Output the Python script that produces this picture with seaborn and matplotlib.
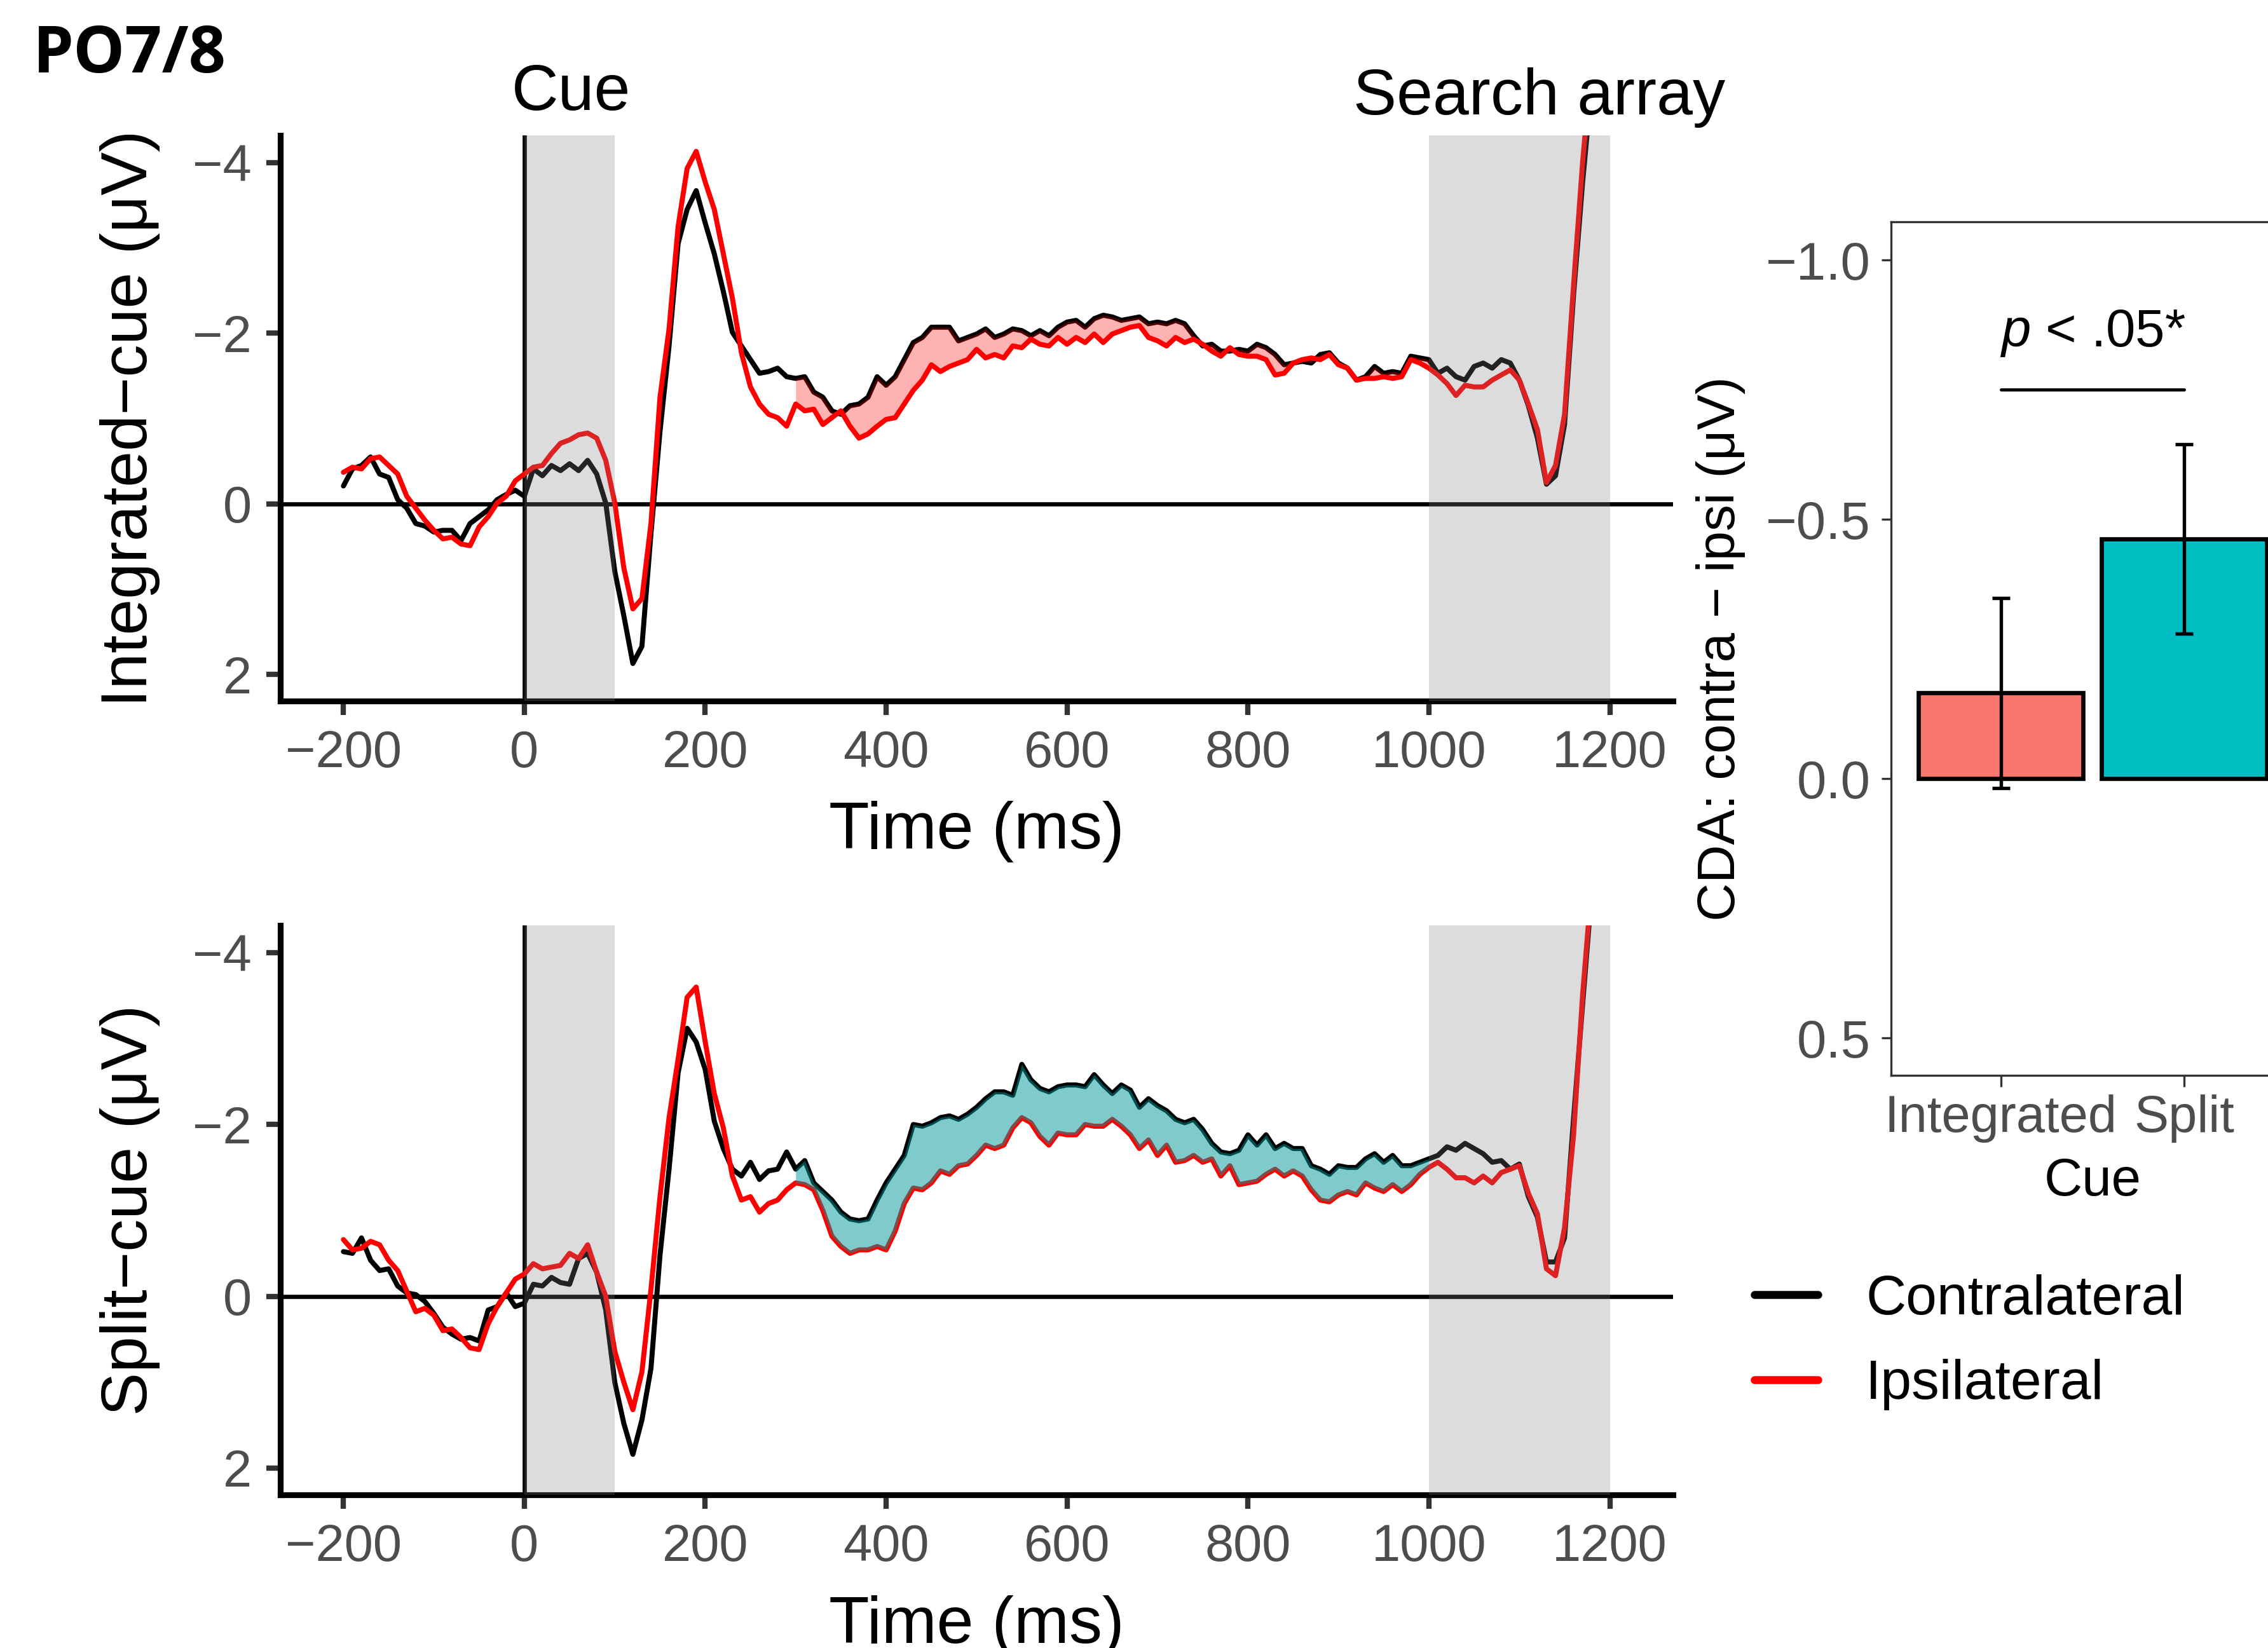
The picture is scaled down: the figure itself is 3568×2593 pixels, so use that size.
import numpy as np
import pandas as pd
import matplotlib
matplotlib.use('Agg')
import matplotlib.pyplot as plt
import matplotlib.transforms as mtransforms
from matplotlib.lines import Line2D
import seaborn as sns

# ERP sample times (ms) and waveforms (uV, 10 ms steps)
time_ms = np.arange(-200, 1201, 10)

integrated_contra = [
    -0.21, -0.41, -0.45, -0.55, -0.35, -0.31, -0.05, 0.05, 0.23, 0.26,
    0.33, 0.31, 0.31, 0.43, 0.23, 0.15, 0.07, -0.05, -0.11, -0.16,
    -0.09, -0.41, -0.33, -0.45, -0.39, -0.47, -0.39, -0.51, -0.35, -0.01,
    0.79, 1.31, 1.87, 1.67, 0.35, -0.85, -1.85, -3.05, -3.45, -3.67,
    -3.29, -2.93, -2.49, -2.01, -1.85, -1.69, -1.53, -1.55, -1.59, -1.49,
    -1.47, -1.49, -1.31, -1.25, -1.09, -1.05, -1.15, -1.17, -1.25, -1.49,
    -1.39, -1.49, -1.69, -1.89, -1.95, -2.07, -2.07, -2.07, -1.91, -1.95,
    -1.99, -2.05, -1.95, -1.99, -2.05, -2.03, -1.97, -2.03, -1.97, -2.07,
    -2.13, -2.15, -2.07, -2.17, -2.21, -2.19, -2.15, -2.17, -2.19, -2.11,
    -2.13, -2.11, -2.15, -2.11, -1.97, -1.85, -1.87, -1.79, -1.79, -1.81,
    -1.79, -1.87, -1.83, -1.75, -1.63, -1.65, -1.67, -1.65, -1.75, -1.77,
    -1.65, -1.59, -1.45, -1.49, -1.61, -1.53, -1.55, -1.53, -1.73, -1.71,
    -1.69, -1.53, -1.59, -1.49, -1.45, -1.61, -1.65, -1.59, -1.69, -1.65,
    -1.45, -1.15, -0.77, -0.23, -0.33, -0.93, -2.45, -3.77, -4.90, -6.00,
    -7.00]

integrated_ipsi = [
    -0.37, -0.43, -0.41, -0.53, -0.55, -0.45, -0.35, -0.09, 0.05, 0.19,
    0.31, 0.41, 0.39, 0.47, 0.49, 0.27, 0.15, -0.01, -0.09, -0.27,
    -0.35, -0.43, -0.45, -0.59, -0.71, -0.75, -0.81, -0.83, -0.77, -0.51,
    -0.01, 0.75, 1.23, 1.11, 0.23, -1.25, -2.05, -3.25, -3.93, -4.13,
    -3.77, -3.45, -2.93, -2.41, -1.77, -1.37, -1.17, -1.05, -1.01, -0.91,
    -1.17, -1.09, -1.11, -0.93, -1.01, -1.09, -0.91, -0.77, -0.82, -0.91,
    -0.99, -1.01, -1.17, -1.33, -1.45, -1.63, -1.55, -1.61, -1.65, -1.69,
    -1.81, -1.71, -1.75, -1.71, -1.85, -1.83, -1.93, -1.87, -1.85, -1.95,
    -1.87, -1.95, -1.89, -1.99, -1.89, -1.99, -2.03, -2.07, -2.09, -1.95,
    -1.91, -1.85, -1.95, -1.89, -1.93, -1.87, -1.79, -1.73, -1.83, -1.75,
    -1.73, -1.73, -1.69, -1.51, -1.53, -1.65, -1.69, -1.71, -1.69, -1.75,
    -1.63, -1.59, -1.45, -1.47, -1.47, -1.49, -1.47, -1.49, -1.69, -1.65,
    -1.59, -1.51, -1.41, -1.27, -1.39, -1.37, -1.37, -1.45, -1.51, -1.57,
    -1.45, -1.17, -0.87, -0.25, -0.45, -1.05, -2.57, -4.01, -5.20, -6.30,
    -7.30]

split_contra = [
    -0.52, -0.50, -0.68, -0.42, -0.30, -0.32, -0.12, -0.04, -0.02, 0.06,
    0.20, 0.36, 0.44, 0.50, 0.48, 0.52, 0.16, 0.12, -0.04, 0.12,
    0.08, -0.14, -0.12, -0.22, -0.16, -0.14, -0.44, -0.50, -0.28, 0.16,
    1.00, 1.48, 1.84, 1.44, 0.84, -0.48, -1.48, -2.60, -3.12, -2.96,
    -2.64, -2.04, -1.72, -1.48, -1.40, -1.56, -1.36, -1.46, -1.48, -1.68,
    -1.48, -1.58, -1.32, -1.22, -1.12, -0.98, -0.90, -0.88, -0.90, -1.12,
    -1.32, -1.48, -1.64, -2.00, -1.98, -2.02, -2.08, -2.10, -2.06, -2.12,
    -2.20, -2.30, -2.38, -2.38, -2.34, -2.70, -2.52, -2.42, -2.38, -2.44,
    -2.46, -2.46, -2.44, -2.58, -2.46, -2.36, -2.46, -2.40, -2.20, -2.30,
    -2.22, -2.16, -2.06, -2.02, -2.06, -1.94, -1.78, -1.68, -1.66, -1.70,
    -1.88, -1.76, -1.88, -1.72, -1.78, -1.72, -1.72, -1.52, -1.48, -1.42,
    -1.52, -1.50, -1.50, -1.60, -1.66, -1.56, -1.64, -1.52, -1.52, -1.56,
    -1.60, -1.64, -1.74, -1.70, -1.78, -1.72, -1.66, -1.56, -1.58, -1.48,
    -1.54, -1.16, -0.92, -0.40, -0.40, -0.68, -2.08, -3.40, -4.70, -5.90,
    -7.00]

split_ipsi = [
    -0.66, -0.54, -0.56, -0.64, -0.60, -0.42, -0.30, -0.06, 0.18, 0.14,
    0.22, 0.40, 0.38, 0.48, 0.60, 0.62, 0.32, 0.12, -0.04, -0.20,
    -0.26, -0.38, -0.32, -0.34, -0.36, -0.50, -0.44, -0.60, -0.28, 0.00,
    0.64, 1.00, 1.32, 0.88, -0.08, -1.16, -2.08, -2.76, -3.48, -3.60,
    -2.96, -2.36, -1.96, -1.40, -1.12, -1.16, -0.98, -1.08, -1.12, -1.24,
    -1.32, -1.30, -1.24, -1.00, -0.70, -0.58, -0.50, -0.54, -0.54, -0.58,
    -0.54, -0.76, -1.08, -1.26, -1.24, -1.32, -1.46, -1.42, -1.52, -1.54,
    -1.64, -1.76, -1.72, -1.76, -1.96, -2.08, -2.02, -1.86, -1.76, -1.90,
    -1.88, -1.88, -2.00, -1.98, -1.98, -2.06, -1.98, -1.88, -1.72, -1.82,
    -1.64, -1.76, -1.56, -1.58, -1.64, -1.56, -1.60, -1.40, -1.52, -1.30,
    -1.32, -1.34, -1.42, -1.48, -1.40, -1.46, -1.40, -1.24, -1.12, -1.10,
    -1.18, -1.22, -1.18, -1.32, -1.26, -1.22, -1.30, -1.22, -1.30, -1.42,
    -1.50, -1.56, -1.48, -1.38, -1.38, -1.32, -1.40, -1.32, -1.44, -1.48,
    -1.52, -1.20, -0.96, -0.32, -0.24, -0.80, -1.88, -3.52, -4.80, -6.00,
    -7.10]

sides = ['Contralateral', 'Ipsilateral']
side_colors = {'Contralateral': 'black', 'Ipsilateral': 'red'}

# CDA bar panel
cue_types = ['Integrated', 'Split']
cda_mean = [-0.165, -0.462]
cda_se = [0.183, 0.183]
bar_colors = ['#F8766D', '#00BFC4']

time_ticks = [-200, 0, 200, 400, 600, 800, 1000, 1200]
uv_ticks = [-4, -2, 0, 2]
cda_ticks = [-1.0, -0.5, 0.0, 0.5]
cda_tick_labels = ['\u22121.0', '\u22120.5', '0.0', '0.5']

sns.set_theme(style='white')
plt.rcParams['font.family'] = ['Liberation Sans', 'DejaVu Sans']
plt.rcParams['text.color'] = 'black'
plt.rcParams['axes.labelcolor'] = 'black'
plt.rcParams['mathtext.fontset'] = 'custom'
plt.rcParams['mathtext.it'] = 'Liberation Sans:italic'
plt.rcParams['mathtext.rm'] = 'Liberation Sans'

fig = plt.figure(figsize=(3568 / 300, 2593 / 300), dpi=300)
fig.patch.set_facecolor('white')


def draw_erp(ax, contra, ipsi, fill_color, fill_alpha, ylabel):
    n = len(time_ms)
    df = pd.DataFrame({
        'time': np.concatenate([time_ms, time_ms]),
        'uv': list(contra) + list(ipsi),
        'side': [sides[0]] * n + [sides[1]] * n,
    })
    ax.axhline(0, color='black', lw=1.6, zorder=1)
    ax.axvline(0, color='black', lw=1.6, zorder=1)
    sns.lineplot(data=df, x='time', y='uv', hue='side', hue_order=sides,
                 palette=side_colors, linewidth=1.9, errorbar=None,
                 legend=False, ax=ax, zorder=3)
    # shaded CDA window 300-1000 ms
    c = np.array(contra)
    i = np.array(ipsi)
    win = (time_ms >= 300) & (time_ms <= 1000)
    ax.fill_between(time_ms[win], c[win], i[win], color=fill_color,
                    alpha=fill_alpha, lw=0, zorder=4)
    # cue and search-array periods
    ax.axvspan(0, 100, color='#7F7F7F', alpha=0.27, lw=0, zorder=5)
    ax.axvspan(1000, 1200, color='#7F7F7F', alpha=0.27, lw=0, zorder=5)

    ax.set_xlim(-270, 1270)
    ax.set_ylim(2.31, -4.32)
    ax.set_xticks(time_ticks)
    ax.set_yticks(uv_ticks)
    for s in ['top', 'right']:
        ax.spines[s].set_visible(False)
    for s in ['left', 'bottom']:
        ax.spines[s].set_color('black')
        ax.spines[s].set_linewidth(2.2)
    ax.tick_params(axis='both', which='both', direction='out', color='#333333',
                   width=2.0, length=5.3, labelsize=19.5, labelcolor='#4D4D4D',
                   pad=5.5, left=True, bottom=True)
    ax.set_xlabel('Time (ms)', fontsize=25, color='black')
    ax.xaxis.set_label_coords(0.5, -0.176)
    ax.set_ylabel(ylabel, fontsize=24.5, color='black')
    ax.yaxis.set_label_coords(-0.0863, 0.5)
    ax.set_facecolor('white')


ax1 = fig.add_axes([0.1235, 0.5746, 0.6142, 0.3434])
ax2 = fig.add_axes([0.1235, 0.0930, 0.6142, 0.3456])

draw_erp(ax1, integrated_contra, integrated_ipsi, 'red', 0.3,
         'Integrated\u2212cue (\u03bcV)')
draw_erp(ax2, split_contra, split_ipsi, '#009999', 0.5,
         'Split\u2212cue (\u03bcV)')

trans = mtransforms.blended_transform_factory(ax1.transData, ax1.transAxes)
ax1.text(52, 1.0447, 'Cue', transform=trans, ha='center', va='baseline',
         fontsize=24.5, color='black')
ax1.text(1122, 1.037, 'Search array', transform=trans, ha='center',
         va='baseline', fontsize=24.5, color='black')

# bar panel
ax3 = fig.add_axes([0.8337, 0.3474, 0.1778, 0.5181])
sns.barplot(x=cue_types, y=cda_mean, hue=cue_types, palette=bar_colors,
            saturation=1, width=0.9, edgecolor='black', linewidth=1.6,
            errorbar=None, legend=False, ax=ax3, zorder=2)
ax3.errorbar([0, 1], cda_mean, yerr=cda_se, fmt='none', ecolor='black',
             elinewidth=1.3, capsize=3.4, capthick=1.3, zorder=3)
ax3.plot([0, 1], [-0.75, -0.75], color='black', lw=1.2)
ax3.text(0.5, -0.834, '$p$ < .05*', ha='center', va='baseline', fontsize=20,
         color='black')
ax3.set_xlim(-0.6, 1.6)
ax3.set_ylim(0.5725, -1.074)
ax3.set_yticks(cda_ticks)
ax3.set_yticklabels(cda_tick_labels)
for s in ax3.spines.values():
    s.set_visible(True)
    s.set_color('#333333')
    s.set_linewidth(0.8)
ax3.tick_params(axis='y', color='#333333', width=0.8, length=3.6,
                labelsize=20, labelcolor='#4D4D4D', pad=4, left=True)
ax3.tick_params(axis='x', color='#333333', width=0.8, length=4.2,
                labelsize=19.5, labelcolor='#4D4D4D', pad=3, bottom=True)
ax3.set_xlabel('Cue', fontsize=20, color='black')
ax3.xaxis.set_label_coords(0.5, -0.095)
ax3.set_ylabel('CDA: contra \u2212 ipsi (\u03bcV)', fontsize=20, color='black')
ax3.yaxis.set_label_coords(-0.36, 0.5)
ax3.set_facecolor('white')

# legend
handles = [Line2D([], [], color=side_colors[s], lw=3.0) for s in sides]
fig.legend(handles=handles, labels=sides, loc='center left',
           bbox_to_anchor=(0.7736, 0.1855), frameon=False, fontsize=21,
           handlelength=1.14, handletextpad=0.86, labelspacing=0.6,
           borderpad=0, borderaxespad=0)

fig.text(0.0145, 0.9561, 'PO7/8', fontsize=24.5, fontweight='bold',
         family=['Open Sans', 'DejaVu Sans'], color='black',
         ha='left', va='baseline')

fig.savefig('out.png', dpi=300)
